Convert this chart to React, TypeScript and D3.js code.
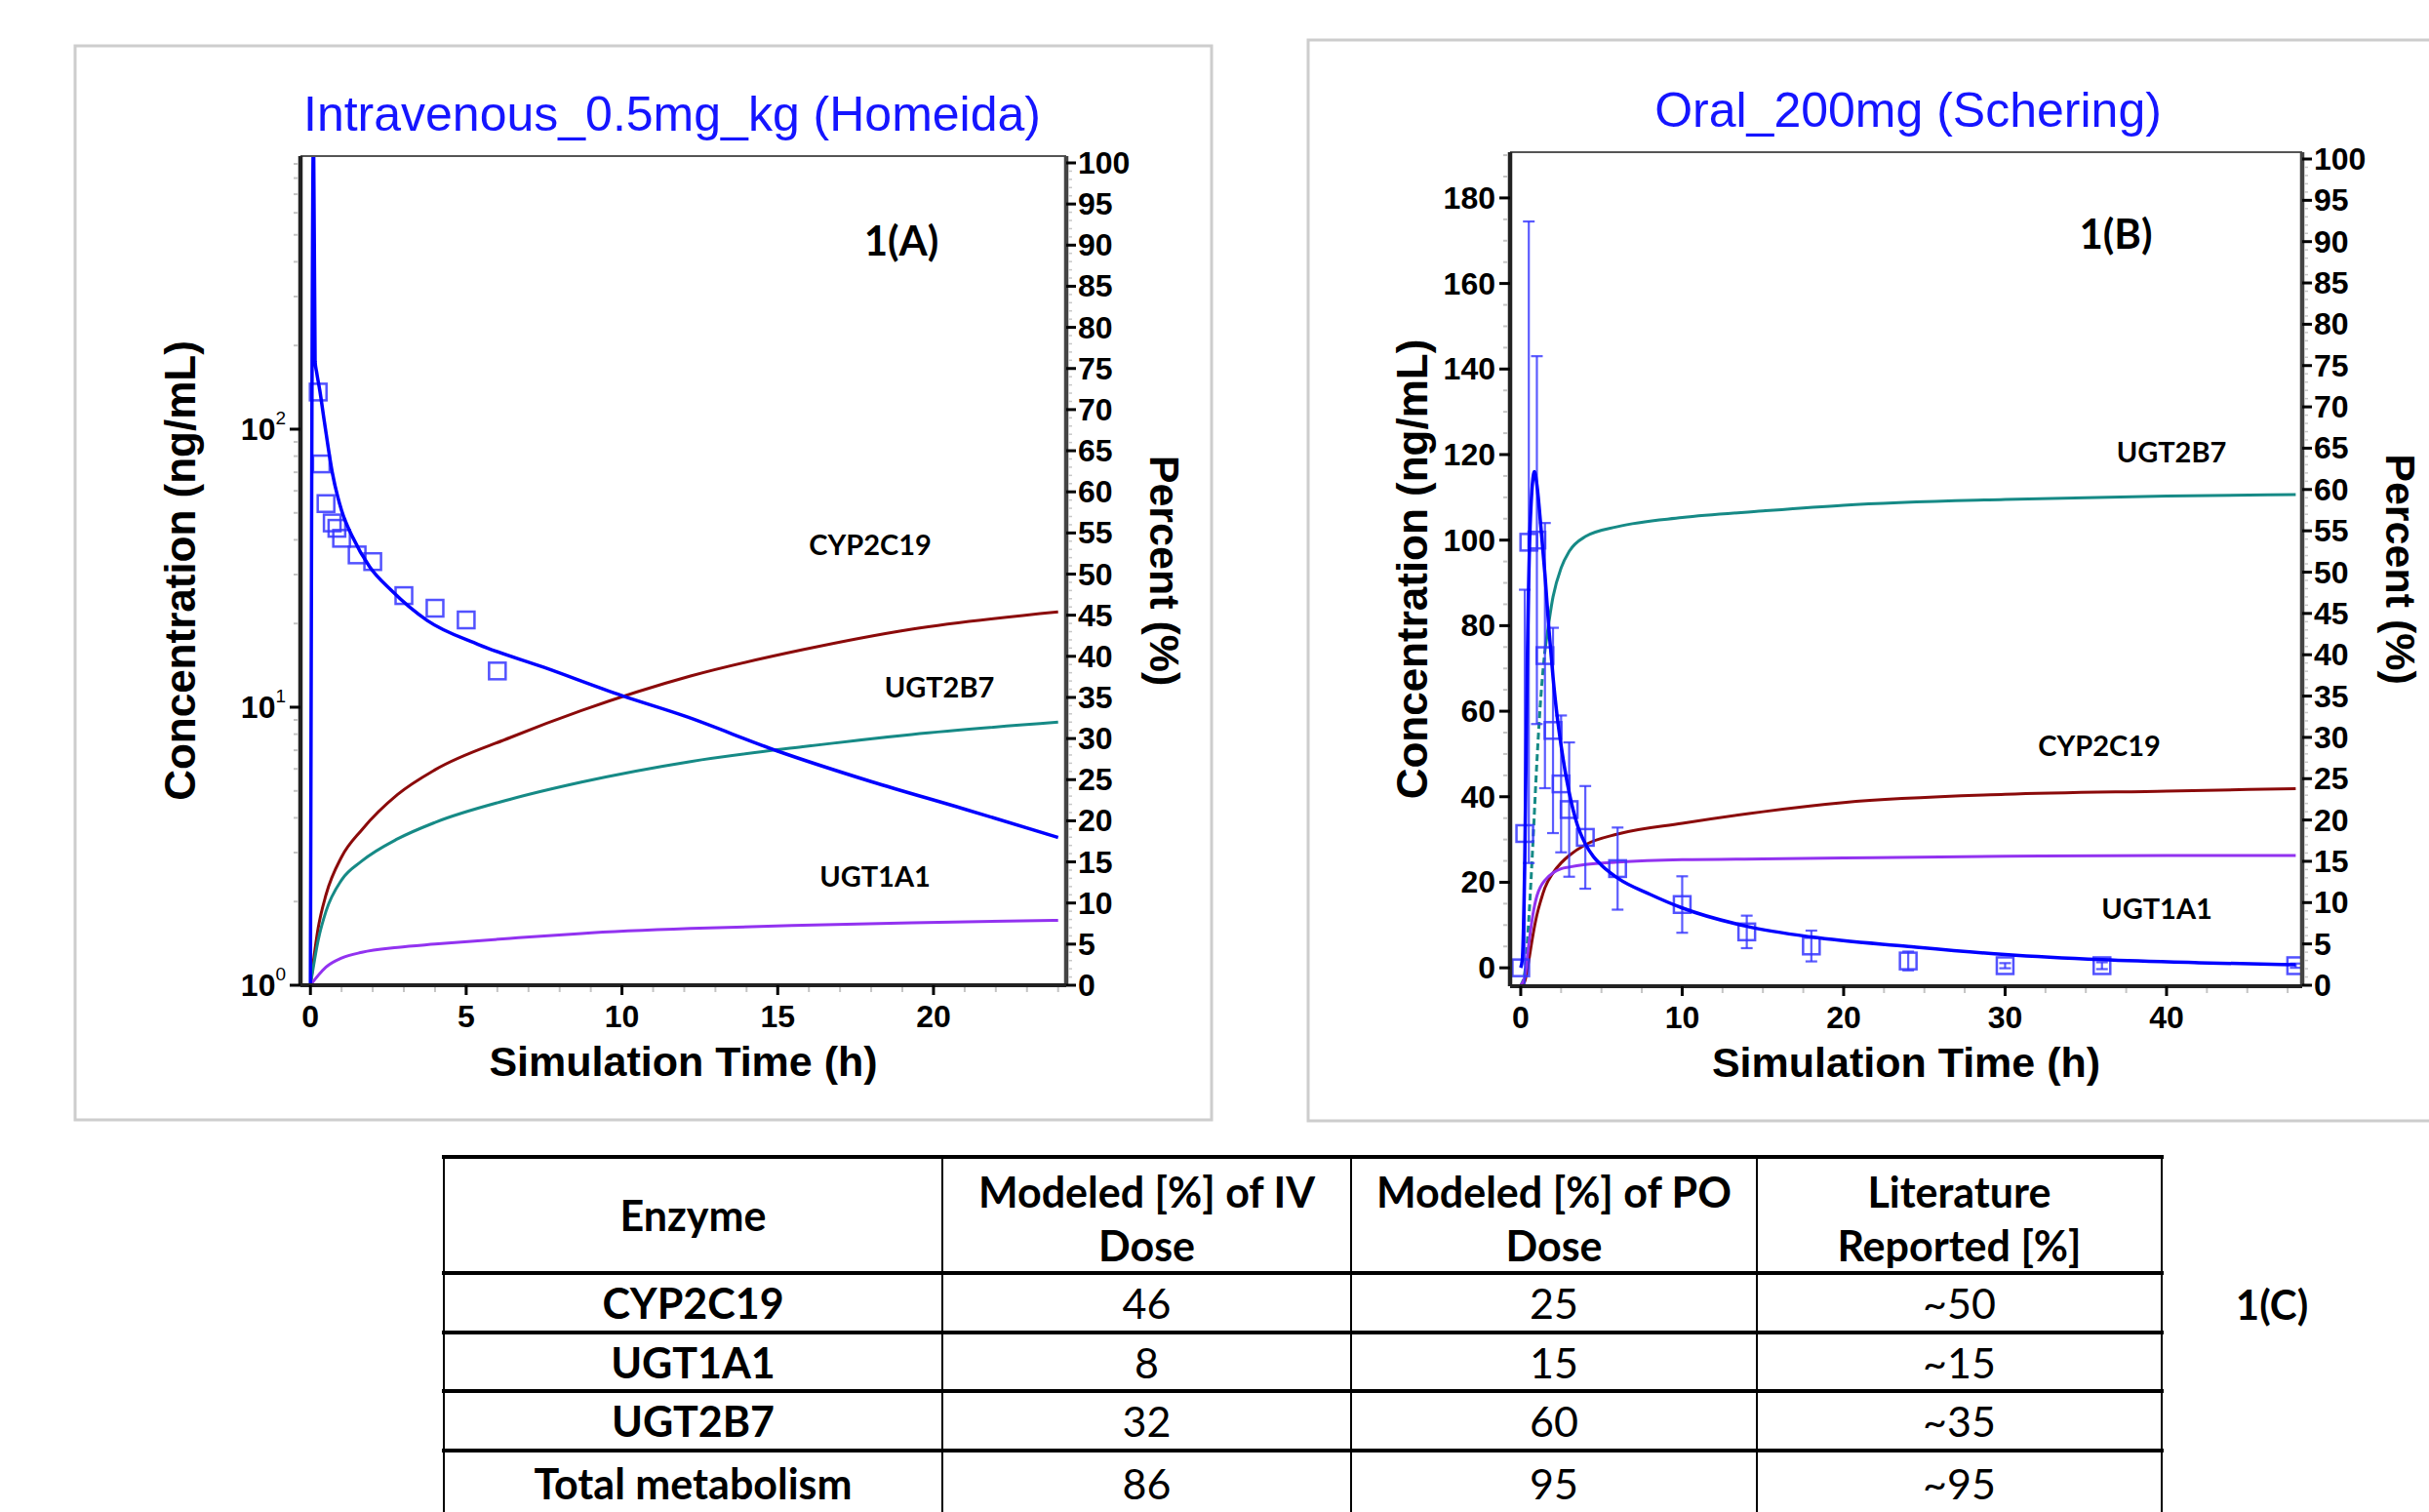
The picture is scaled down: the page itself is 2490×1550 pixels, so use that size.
import React, { useEffect, useRef } from 'react';
import * as d3 from 'd3';

const SANS = "'Liberation Sans', Arial, Helvetica, sans-serif";
const CAL = "Lato, 'Open Sans', sans-serif";

const BLUE = '#0000ff';
const OBS = '#3434ff';
const CYP = '#8b0a0a';
const U2B7 = '#168a86';
const U1A1 = '#9232f0';

// ---- 1(A) intravenous 0.5 mg/kg (Homeida)
const ivObsTime = [0.25, 0.35, 0.5, 0.7, 0.85, 1, 1.5, 2, 3, 4, 5, 6];
const ivObsConc = [136, 75, 54, 46, 44, 40.5, 35.3, 33.4, 25.2, 22.7, 20.6, 13.5];
const ivSimTime = [0, 0.1, 0.15, 0.2, 0.3, 0.45, 0.7, 1, 1.35, 1.9, 2.6, 3.75, 5.4, 7.5, 10, 12, 15, 18, 21, 24];
const ivSimConc = [1, 1200, 175, 160, 138, 106, 70, 51, 41, 32, 26.3, 20.5, 16.8, 13.9, 11, 9.3, 6.95, 5.4, 4.3, 3.4];
const ivPctTime = [0, 0.25, 0.5, 1, 1.65, 2.8, 4, 6.4, 8.7, 12.2, 15.8, 19.3, 24];
const ivCyp2c19 = [0, 7, 11, 15.6, 18.9, 23.2, 26.2, 30.1, 33.4, 37.6, 40.8, 43.3, 45.4];
const ivUgt2b7 = [0, 5.5, 9, 12.8, 15.1, 17.8, 19.8, 22.6, 24.7, 27.2, 29.0, 30.5, 32.0];
const ivUgt1a1 = [0, 1.2, 2.2, 3.3, 4.0, 4.6, 5.0, 5.7, 6.3, 6.9, 7.3, 7.6, 7.9];

// ---- 1(B) oral 200 mg (Schering)
const poObsTime = [0, 0.25, 0.5, 1, 1.5, 2, 2.5, 3, 4, 6, 10, 14, 18, 24, 30, 36, 48];
const poObsConc = [0, 31.4, 99.5, 100, 73, 55.5, 43, 37, 30.5, 23.2, 14.8, 8.4, 5.1, 1.6, 0.5, 0.5, 0.5];
const poObsSd = [0, 57, 75, 43, 31, 24, 16, 15.7, 12, 9.6, 6.6, 3.8, 3.6, 2.2, 0.6, 0.8, 0.5];
const poSimTime = [0, 0.1, 0.25, 0.4, 0.6, 0.85, 1, 1.25, 1.5, 1.75, 2, 2.25, 2.5, 3, 3.5, 4, 4.5, 5, 6, 8, 10, 14, 18, 24, 30, 36, 42, 48];
const poSimConc = [0, 2, 25, 70, 105, 116, 113, 103, 92, 79, 68, 59, 52, 41, 33.5, 29, 26, 24, 21, 17.2, 14, 9.7, 7.2, 5, 3.1, 1.9, 1.2, 0.7];
const poPctTime = [0, 0.25, 0.5, 0.75, 1, 1.25, 1.5, 2, 2.5, 3, 4, 6, 10, 15, 20, 30, 40, 48];
const poUgt2b7 = [0, 1.5, 8, 17, 27, 35, 40.5, 47, 50.5, 52.5, 54.3, 55.5, 56.6, 57.4, 58.1, 58.8, 59.2, 59.4];
const poCyp2c19 = [0, 0.5, 3, 6, 8.5, 10.3, 11.8, 13.6, 14.8, 15.7, 17, 18.3, 19.6, 21, 22.1, 23.1, 23.5, 23.8];
const poUgt1a1 = [0, 1, 5, 8.5, 10.8, 12, 12.7, 13.6, 14.1, 14.3, 14.6, 14.9, 15.2, 15.3, 15.4, 15.6, 15.7, 15.7];

// ---- 1(C) table
const tableHeader = ['Enzyme', 'Modeled [%] of IV\nDose', 'Modeled [%] of PO\nDose', 'Literature\nReported [%]'];
const tableEnzymes = ['CYP2C19', 'UGT1A1', 'UGT2B7', 'Total metabolism'];
const tableIv = ['46', '8', '32', '86'];
const tablePo = ['25', '15', '60', '95'];
const tableLit = ['~50', '~15', '~35', '~95'];

function drawPanel(svg, p) {
  const root = svg.append('g');

  root.append('rect')
    .attr('x', p.frame[0]).attr('y', p.frame[1])
    .attr('width', p.frame[2]).attr('height', p.frame[3])
    .attr('fill', 'none').attr('stroke', '#cdcdcd').attr('stroke-width', 3);

  root.append('text')
    .attr('x', p.titleX).attr('y', p.titleY)
    .attr('text-anchor', 'middle')
    .attr('font-family', SANS).attr('font-size', 50).attr('fill', '#1515ff')
    .text(p.title);

  const x = d3.scaleLinear().domain(p.xDomain).range([p.left, p.right]);
  const y = p.logY
    ? d3.scaleLog().domain(p.yDomain).range([p.bottom, p.top])
    : d3.scaleLinear().domain(p.yDomain).range([p.bottom, p.top]);
  const yp = d3.scaleLinear().domain([0, 100]).range([p.pctZero, p.pctTop]);

  const clipId = `clip-${p.id}`;
  root.append('clipPath').attr('id', clipId)
    .append('rect')
    .attr('x', p.left).attr('y', p.top)
    .attr('width', p.right - p.left).attr('height', p.bottom - p.top);

  const plot = root.append('g').attr('clip-path', `url(#${clipId})`);

  // percent metabolised curves (right axis)
  p.pct.forEach(s => {
    const pts = p.pctTime.map((t, i) => [t, s.values[i]]);
    const line = d3.line()
      .x(d => x(d[0]))
      .y(d => yp(d[1]))
      .curve(d3.curveMonotoneX);
    if (s.dashUntil) {
      // early part of the curve is drawn dashed in the source figure
      plot.append('path')
        .datum(pts.filter(d => d[0] <= s.dashUntil))
        .attr('d', line)
        .attr('fill', 'none')
        .attr('stroke', s.color)
        .attr('stroke-width', 3)
        .attr('stroke-dasharray', '7,4');
      plot.append('path')
        .datum(pts.filter(d => d[0] >= s.dashUntil))
        .attr('d', line)
        .attr('fill', 'none')
        .attr('stroke', s.color)
        .attr('stroke-width', 3);
    } else {
      plot.append('path')
        .datum(pts)
        .attr('d', line)
        .attr('fill', 'none')
        .attr('stroke', s.color)
        .attr('stroke-width', 3);
    }
  });

  // observed squares + error bars
  const sq = 17;
  p.obsTime.forEach((t, i) => {
    const cx = x(t), cy = y(p.obsConc[i]);
    if (p.obsSd) {
      const sd = p.obsSd[i];
      if (sd > 0) {
        const y1 = y(p.obsConc[i] + sd), y2 = y(p.obsConc[i] - sd);
        plot.append('line').attr('x1', cx).attr('x2', cx).attr('y1', y1).attr('y2', y2)
          .attr('stroke', OBS).attr('stroke-width', 2.2).attr('opacity', 0.8);
        [y1, y2].forEach(yy => {
          plot.append('line').attr('x1', cx - 6).attr('x2', cx + 6).attr('y1', yy).attr('y2', yy)
            .attr('stroke', OBS).attr('stroke-width', 2.2).attr('opacity', 0.8);
        });
      }
    }
    plot.append('rect')
      .attr('x', cx - sq / 2).attr('y', cy - sq / 2)
      .attr('width', sq).attr('height', sq)
      .attr('fill', 'none').attr('stroke', OBS).attr('stroke-width', 2.5).attr('opacity', 0.85);
  });

  // simulated concentration
  const concLine = d3.line()
    .x((d, i) => x(p.simTime[i]))
    .y(d => y(d))
    .curve(d3.curveMonotoneX);
  plot.append('path')
    .datum(p.simConc)
    .attr('d', concLine)
    .attr('fill', 'none')
    .attr('stroke', BLUE)
    .attr('stroke-width', 3.5);

  // frame of the plot area
  const ax = root.append('g');
  ax.append('line').attr('x1', p.left).attr('x2', p.right).attr('y1', p.top).attr('y2', p.top)
    .attr('stroke', '#555').attr('stroke-width', 2);
  ax.append('line').attr('x1', p.right).attr('x2', p.right).attr('y1', p.top).attr('y2', p.bottom)
    .attr('stroke', '#444').attr('stroke-width', 4.5);
  ax.append('line').attr('x1', p.left).attr('x2', p.right).attr('y1', p.bottom).attr('y2', p.bottom)
    .attr('stroke', '#222').attr('stroke-width', 4);
  ax.append('line').attr('x1', p.left).attr('x2', p.left).attr('y1', p.top).attr('y2', p.bottom)
    .attr('stroke', '#222').attr('stroke-width', 4.5);

  const tickFont = (sel) => sel.attr('font-family', SANS).attr('font-weight', 700).attr('font-size', 32).attr('fill', '#000');

  // x ticks
  p.xMinor.forEach(v => {
    ax.append('line').attr('x1', x(v)).attr('x2', x(v)).attr('y1', p.bottom + 2).attr('y2', p.bottom + 7)
      .attr('stroke', '#c4c4c4').attr('stroke-width', 2);
  });
  p.xTicks.forEach(v => {
    ax.append('line').attr('x1', x(v)).attr('x2', x(v)).attr('y1', p.bottom).attr('y2', p.bottom + 10)
      .attr('stroke', '#000').attr('stroke-width', 3);
    ax.append('text').attr('x', x(v)).attr('y', p.bottom + 43).attr('text-anchor', 'middle')
      .call(tickFont).text(v);
  });

  // left ticks
  p.yMinor.forEach(v => {
    ax.append('line').attr('x1', p.left - 7).attr('x2', p.left - 2).attr('y1', y(v)).attr('y2', y(v))
      .attr('stroke', '#c4c4c4').attr('stroke-width', 2);
  });
  p.yTicks.forEach((v, i) => {
    ax.append('line').attr('x1', p.left - 11).attr('x2', p.left).attr('y1', y(v)).attr('y2', y(v))
      .attr('stroke', '#000').attr('stroke-width', 3);
    const t = ax.append('text').attr('x', p.left - 15).attr('y', y(v) + 11).attr('text-anchor', 'end')
      .call(tickFont);
    if (p.logY) {
      t.append('tspan').text('10');
      t.append('tspan').attr('dy', -16).attr('font-size', 19).attr('font-weight', 400).text(String(i));
    } else {
      t.text(v);
    }
  });

  // right (percent) ticks
  d3.range(0, 101).forEach(v => {
    if (v % 5 === 0) {
      ax.append('line').attr('x1', p.right).attr('x2', p.right + 10).attr('y1', yp(v)).attr('y2', yp(v))
        .attr('stroke', '#000').attr('stroke-width', 3);
      ax.append('text').attr('x', p.right + 12).attr('y', yp(v) + 11).attr('text-anchor', 'start')
        .call(tickFont).text(v);
    } else {
      ax.append('line').attr('x1', p.right + 2).attr('x2', p.right + 6).attr('y1', yp(v)).attr('y2', yp(v))
        .attr('stroke', '#c8c8c8').attr('stroke-width', 1.5);
    }
  });

  // axis titles
  const titleFont = (sel) => sel.attr('font-family', SANS).attr('font-weight', 700).attr('font-size', 43).attr('fill', '#000');
  ax.append('text').attr('x', (p.left + p.right) / 2).attr('y', p.bottom + 93).attr('text-anchor', 'middle')
    .call(titleFont).text('Simulation Time (h)');
  ax.append('text').attr('transform', `translate(${p.yLabelX},${(p.top + p.bottom) / 2}) rotate(-90)`)
    .attr('text-anchor', 'middle').attr('dominant-baseline', 'central')
    .call(titleFont).attr('font-size', 44).text('Concentration (ng/mL)');
  ax.append('text').attr('transform', `translate(${p.pLabelX},${(p.top + p.bottom) / 2}) rotate(90)`)
    .attr('text-anchor', 'middle').attr('dominant-baseline', 'central')
    .call(titleFont).text('Percent (%)');

  // panel tag and enzyme labels
  ax.append('text').attr('x', p.tag[0]).attr('y', p.tag[1]).attr('text-anchor', 'middle').attr('dominant-baseline', 'central')
    .attr('font-family', CAL).attr('font-weight', 700).attr('font-size', 42).text(p.tag[2]);
  p.labels.forEach(l => {
    ax.append('text').attr('x', l[0]).attr('y', l[1]).attr('text-anchor', 'middle').attr('dominant-baseline', 'central')
      .attr('font-family', CAL).attr('font-weight', 700).attr('font-size', 29).text(l[2]);
  });
}

function drawTable(svg) {
  const g = svg.append('g');
  const cols = [455, 966, 1385, 1801, 2216];
  const rows = [1186, 1305, 1366, 1426, 1487, 1560];

  const body = [tableEnzymes, tableIv, tablePo, tableLit];

  rows.forEach(r => {
    g.append('line').attr('x1', cols[0] - 2).attr('x2', cols[4] + 2).attr('y1', r).attr('y2', r)
      .attr('stroke', '#000').attr('stroke-width', 4);
  });
  cols.forEach(c => {
    g.append('line').attr('x1', c).attr('x2', c).attr('y1', rows[0]).attr('y2', rows[5])
      .attr('stroke', '#000').attr('stroke-width', 2);
  });

  tableHeader.forEach((h, ci) => {
    const cx = (cols[ci] + cols[ci + 1]) / 2;
    const lines = h.split('\n');
    lines.forEach((ln, li) => {
      const cy = lines.length === 1 ? (rows[0] + rows[1]) / 2 : 1221 + li * 55;
      g.append('text').attr('x', cx).attr('y', cy).attr('text-anchor', 'middle').attr('dominant-baseline', 'central')
        .attr('font-family', CAL).attr('font-weight', 700).attr('font-size', 43).text(ln);
    });
  });

  body.forEach((col, ci) => {
    const cx = (cols[ci] + cols[ci + 1]) / 2;
    col.forEach((v, ri) => {
      const cy = (rows[ri + 1] + Math.min(rows[ri + 2], 1548)) / 2 + (ri === 3 ? 3 : 0);
      g.append('text').attr('x', cx).attr('y', cy).attr('text-anchor', 'middle').attr('dominant-baseline', 'central')
        .attr('font-family', CAL).attr('font-weight', ci === 0 ? 700 : 400).attr('font-size', 43).text(v);
    });
  });

  g.append('text').attr('x', 2329).attr('y', 1337).attr('text-anchor', 'middle').attr('dominant-baseline', 'central')
    .attr('font-family', CAL).attr('font-weight', 700).attr('font-size', 42).text('1(C)');
}

const App = () => {
  const svgRef = useRef(null);

  useEffect(() => {
    const svg = d3.select(svgRef.current);
    svg.selectAll('*').remove();
    svg.append('rect').attr('width', 2490).attr('height', 1550).attr('fill', '#fff');

    drawPanel(svg, {
      id: 'iv',
      frame: [77, 47, 1165, 1101],
      title: 'Intravenous_0.5mg_kg (Homeida)',
      titleX: 689, titleY: 134,
      left: 308, right: 1093, top: 160, bottom: 1010,
      xDomain: [-0.32, 24.26],
      logY: true, yDomain: [1, 960],
      pctZero: 1010, pctTop: 167,
      xTicks: [0, 5, 10, 15, 20],
      xMinor: d3.range(0, 25, 1),
      yTicks: [1, 10, 100],
      yMinor: [2, 3, 4, 5, 6, 7, 8, 9, 20, 30, 40, 50, 60, 70, 80, 90, 200, 300, 400, 500, 600, 700, 800, 900],
      yLabelX: 184, pLabelX: 1194,
      obsTime: ivObsTime, obsConc: ivObsConc,
      simTime: ivSimTime, simConc: ivSimConc,
      pctTime: ivPctTime,
      pct: [
        { values: ivCyp2c19, color: CYP },
        { values: ivUgt2b7, color: U2B7 },
        { values: ivUgt1a1, color: U1A1 },
      ],
      tag: [924, 246, '1(A)'],
      labels: [[892, 557, 'CYP2C19'], [963, 703, 'UGT2B7'], [897, 897, 'UGT1A1']],
    });

    drawPanel(svg, {
      id: 'po',
      frame: [1341, 41, 1200, 1108],
      title: 'Oral_200mg (Schering)',
      titleX: 1956, titleY: 130,
      left: 1548, right: 2360, top: 156, bottom: 1011,
      xDomain: [-0.66, 48.4],
      logY: false, yDomain: [-4.3, 190.7],
      pctZero: 1010, pctTop: 163,
      xTicks: [0, 10, 20, 30, 40],
      xMinor: d3.range(0, 48.1, 2.5),
      yTicks: d3.range(0, 181, 20),
      yMinor: d3.range(0, 191, 5),
      yLabelX: 1447, pLabelX: 2461,
      obsTime: poObsTime, obsConc: poObsConc, obsSd: poObsSd,
      simTime: poSimTime, simConc: poSimConc,
      pctTime: poPctTime,
      pct: [
        { values: poUgt2b7, color: U2B7, dashUntil: 1.5 },
        { values: poCyp2c19, color: CYP },
        { values: poUgt1a1, color: U1A1 },
      ],
      tag: [2169, 239, '1(B)'],
      labels: [[2226, 462, 'UGT2B7'], [2152, 763, 'CYP2C19'], [2211, 930, 'UGT1A1']],
    });

    drawTable(svg);
  }, []);

  return (
    <svg
      ref={svgRef}
      width={2490}
      height={1550}
      style={{ position: 'absolute', left: 0, top: 0, display: 'block' }}
    />
  );
};

export default App;
